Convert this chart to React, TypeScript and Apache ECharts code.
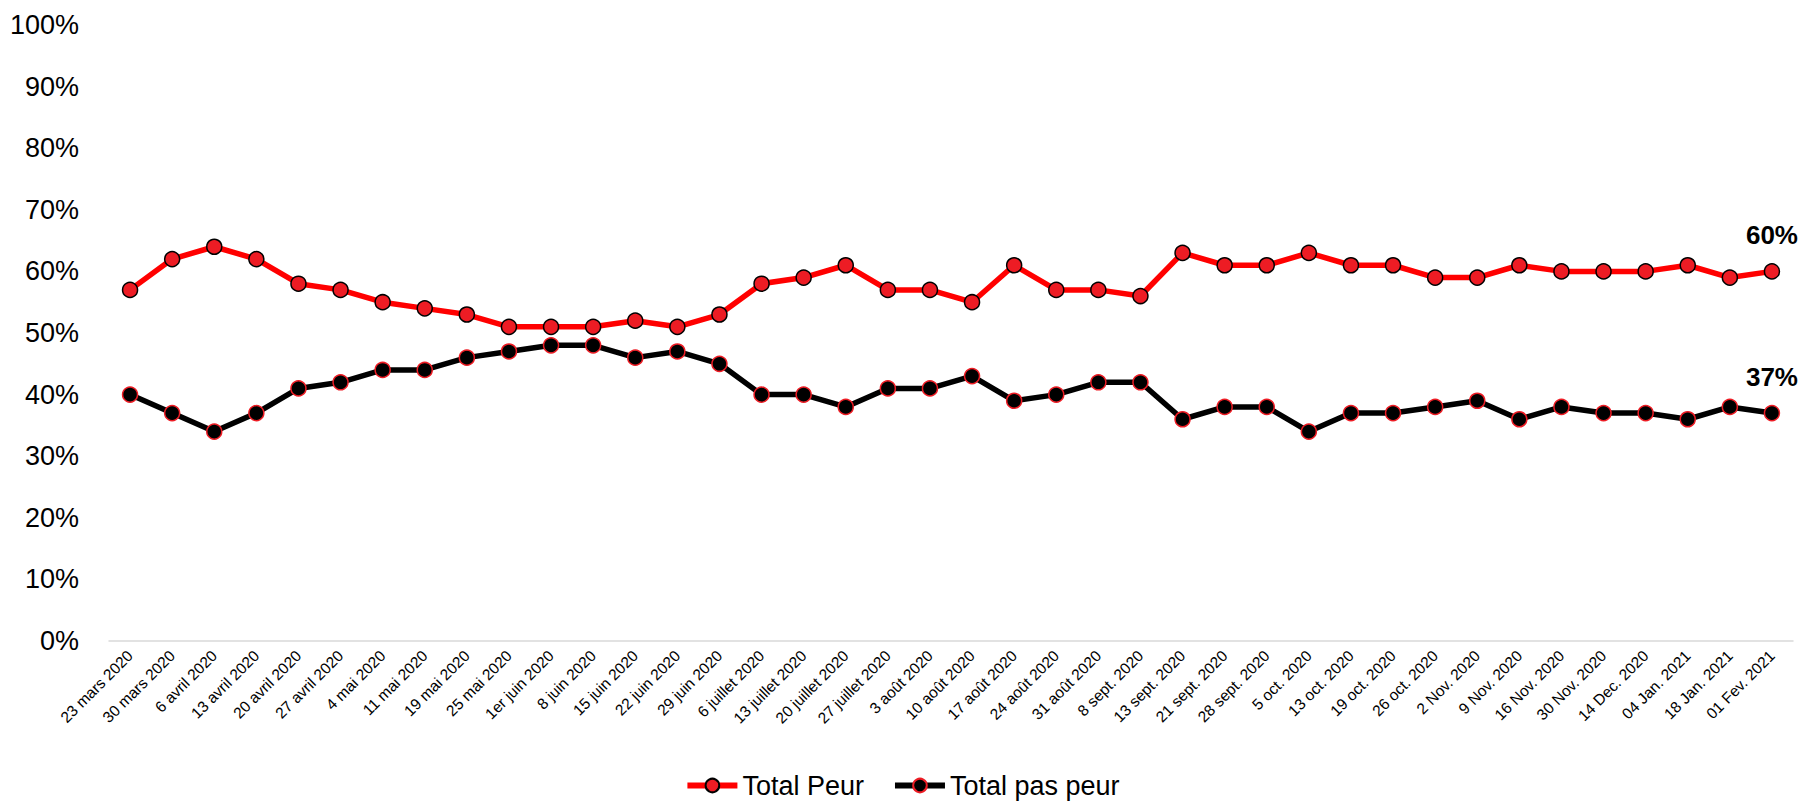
import React, { useEffect, useRef } from "react";
import * as echarts from "echarts";

const categories = [
  "23 mars 2020", "30 mars 2020", "6 avril 2020", "13 avril 2020", "20 avril 2020",
  "27 avril 2020", "4 mai 2020", "11 mai 2020", "19 mai 2020", "25 mai 2020",
  "1er juin 2020", "8 juin 2020", "15 juin 2020", "22 juin 2020", "29 juin 2020",
  "6 juillet 2020", "13 juillet 2020", "20 juillet 2020", "27 juillet 2020", "3 août 2020",
  "10 août 2020", "17 août 2020", "24 août 2020", "31 août 2020", "8 sept. 2020",
  "13 sept. 2020", "21 sept. 2020", "28 sept. 2020", "5 oct. 2020", "13 oct. 2020",
  "19 oct. 2020", "26 oct. 2020", "2 Nov. 2020", "9 Nov. 2020", "16 Nov. 2020",
  "30 Nov. 2020", "14 Dec. 2020", "04 Jan. 2021", "18 Jan. 2021", "01 Fev. 2021",
];

const totalPeur = [
  57, 62, 64, 62, 58, 57, 55, 54, 53, 51,
  51, 51, 52, 51, 53, 58, 59, 61, 57, 57,
  55, 61, 57, 57, 56, 63, 61, 61, 63, 61,
  61, 59, 59, 61, 60, 60, 60, 61, 59, 60,
];

const totalPasPeur = [
  40, 37, 34, 37, 41, 42, 44, 44, 46, 47,
  48, 48, 46, 47, 45, 40, 40, 38, 41, 41,
  43, 39, 40, 42, 42, 36, 38, 38, 34, 37,
  37, 38, 39, 36, 38, 37, 37, 36, 38, 37,
];

const seriesNames = ["Total Peur", "Total pas peur"];
const FONT = "'Liberation Sans', Arial, sans-serif";

function withEndLabel(values: number[]) {
  return values.map((v, i) =>
    i === values.length - 1
      ? {
          value: v,
          label: {
            show: true,
            position: "top",
            distance: 15,
            formatter: "{c}%",
            fontFamily: FONT,
            fontSize: 26,
            fontWeight: "bold",
            color: "#000",
          },
        }
      : v
  );
}

export default function App() {
  const ref = useRef<HTMLDivElement>(null);
  useEffect(() => {
    if (!ref.current) return;
    const chart = echarts.init(ref.current, null, { renderer: "svg" });
    chart.setOption({
      animation: false,
      backgroundColor: "#fff",
      grid: { left: 109, right: 11, top: 25, bottom: 163, containLabel: false },
      legend: {
        bottom: 0,
        left: "center",
        itemWidth: 50,
        itemHeight: 17,
        itemGap: 28,
        lineStyle: { width: 6 },
        textStyle: { fontFamily: FONT, fontSize: 27, color: "#000" },
        data: seriesNames,
      },
      xAxis: {
        type: "category",
        data: categories,
        boundaryGap: true,
        axisLine: { show: true, lineStyle: { color: "#d9d9d9", width: 1.5 } },
        axisTick: { show: false },
        axisLabel: {
          interval: 0,
          rotate: 45,
          margin: 12,
          fontFamily: FONT,
          fontSize: 15.5,
          color: "#000",
        },
      },
      yAxis: {
        type: "value",
        min: 0,
        max: 100,
        interval: 10,
        splitLine: { show: false },
        axisLine: { show: false },
        axisTick: { show: false },
        axisLabel: {
          formatter: "{value}%",
          margin: 30,
          fontFamily: FONT,
          fontSize: 27,
          color: "#000",
        },
      },
      series: [
        {
          name: seriesNames[0],
          type: "line",
          data: withEndLabel(totalPeur),
          symbol: "circle",
          symbolSize: 15,
          lineStyle: { color: "#ff0000", width: 5.5 },
          itemStyle: { color: "#ed1c24", borderColor: "#000", borderWidth: 1.5 },
          z: 3,
        },
        {
          name: seriesNames[1],
          type: "line",
          data: withEndLabel(totalPasPeur),
          symbol: "circle",
          symbolSize: 15,
          lineStyle: { color: "#000", width: 5.5 },
          itemStyle: { color: "#000", borderColor: "#ed1c24", borderWidth: 1.5 },
          z: 2,
        },
      ],
    });
    return () => chart.dispose();
  }, []);
  return (
    <div
      ref={ref}
      style={{ position: "fixed", left: 0, top: 0, width: 1804, height: 804 }}
    />
  );
}
